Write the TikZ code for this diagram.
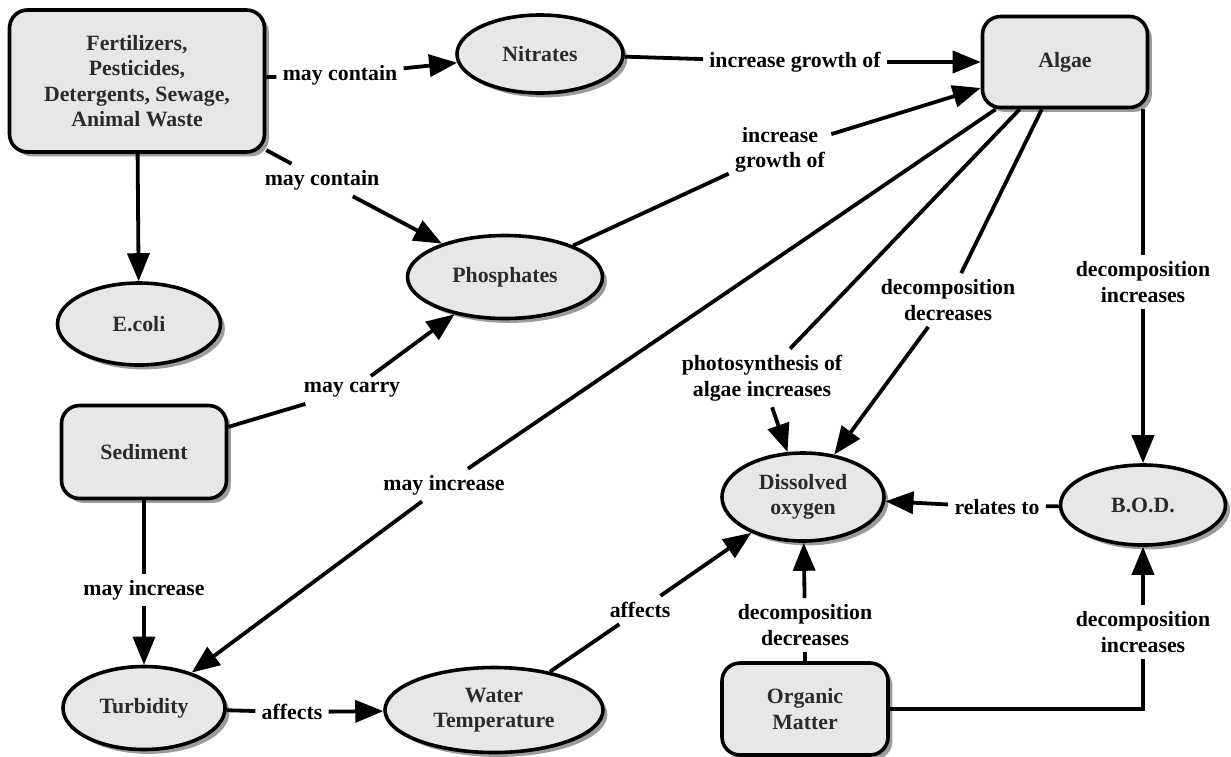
\documentclass[tikz,border=0pt]{standalone}
\usepackage{fontspec}
\setmainfont{Liberation Serif}
\usetikzlibrary{shapes.geometric,shadows,arrows.meta}
\definecolor{conceptFill}{HTML}{E6E7E9}
\definecolor{conceptShadow}{HTML}{9C9C9E}
\definecolor{conceptText}{HTML}{2B2B2B}
\tikzset{
  concept/.style={draw=black, line width=1.8pt, fill=conceptFill, text=conceptText, align=center, inner sep=0pt,
    drop shadow={shadow xshift=2.2pt, shadow yshift=-2.2pt, fill=conceptShadow, opacity=1}},
  cbox/.style={concept, rectangle, rounded corners=9pt},
  cell/.style={concept, ellipse},
  linkword/.style={align=center, inner sep=3pt, text=black},
  link/.style={line width=1.9pt},
  linkto/.style={link, -{Triangle[length=14pt,width=11pt]}}
}
\begin{document}
\begin{tikzpicture}[x=0.5pt, y=-0.5pt, every node/.style={font=\fontsize{10.9}{12.8}\selectfont\bfseries}]
  \useasboundingbox (0,0) rectangle (1231,756);
  % concepts
  \node[cbox, minimum width=127.5pt, minimum height=71pt] (fert) at (137,81) {Fertilizers,\\Pesticides,\\Detergents, Sewage,\\Animal Waste};
  \node[cell, minimum width=83pt, minimum height=39pt] (nitr) at (540,54) {Nitrates};
  \node[cbox, minimum width=82.5pt, minimum height=45.5pt] (algae) at (1065,62) {Algae};
  \node[cell, minimum width=97.5pt, minimum height=41.5pt] (phos) at (505,277) {Phosphates};
  \node[cell, minimum width=81.5pt, minimum height=41pt] (ecoli) at (139,324) {E.coli};
  \node[cbox, minimum width=82.5pt, minimum height=46.5pt] (sedi) at (144,452) {Sediment};
  \node[cell, minimum width=81pt, minimum height=44pt] (dox) at (803,497) {Dissolved\\oxygen};
  \node[cell, minimum width=82.5pt, minimum height=40pt] (bod) at (1143,505) {B.O.D.};
  \node[cell, minimum width=81pt, minimum height=41.5pt] (turb) at (144,708) {Turbidity};
  \node[cell, minimum width=109pt, minimum height=42.5pt] (wtemp) at (494,710) {Water\\Temperature};
  \node[cbox, minimum width=83pt, minimum height=46pt] (orgm) at (805,709) {Organic\\Matter};
  % linking words
  \node[linkword] (cont1) at (340,75) {may contain};
  \node[linkword] (cont2) at (322,180) {may contain};
  \node[linkword] (grow1) at (795,62) {increase growth of};
  \node[linkword] (grow2) at (780,150) {increase\\growth of};
  \node[linkword] (photo) at (762,378) {photosynthesis of\\algae increases};
  \node[linkword] (decr1) at (948,300) {decomposition\\decreases};
  \node[linkword] (decinc1) at (1143,282) {decomposition\\increases};
  \node[linkword] (carry) at (352,390) {may carry};
  \node[linkword] (incr1) at (444,485) {may increase};
  \node[linkword] (incr2) at (144,590) {may increase};
  \node[linkword] (aff1) at (292,712) {affects};
  \node[linkword] (aff2) at (640,610) {affects};
  \node[linkword] (rel) at (997,507) {relates to};
  \node[linkword] (decr2) at (805,625) {decomposition\\decreases};
  \node[linkword] (decinc2) at (1143,632) {decomposition\\increases};
  % connectors
  \draw[linkto] (fert) -- (ecoli);
  \foreach \src/\via/\dst in {fert/cont1/nitr, fert/cont2/phos, nitr/grow1/algae, phos/grow2/algae,
      algae/photo/dox, algae/decr1/dox, sedi/carry/phos, algae/incr1/turb, sedi/incr2/turb,
      turb/aff1/wtemp, wtemp/aff2/dox, bod/rel/dox, orgm/decr2/dox}{
    \draw[link] (\src) -- (\via);
    \draw[linkto] (\via) -- (\dst);
  }
  \draw[link] (decinc1.north |- algae.south) -- (decinc1);
  \draw[linkto] (decinc1) -- (bod);
  \draw[link] (orgm) -| (decinc2);
  \draw[linkto] (decinc2) -- (bod);
\end{tikzpicture}
\end{document}
